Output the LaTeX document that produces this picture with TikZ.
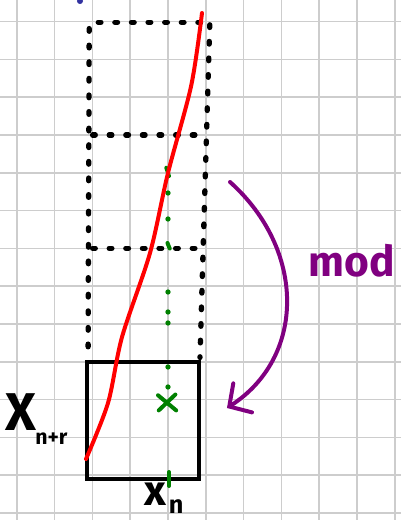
\documentclass[tikz,border=0pt]{standalone}
\usepackage{fontspec}
\setmainfont{Fira Sans}
\usepackage{xcolor}
\usepackage{tikz}
\usetikzlibrary{arrows.meta}

\definecolor{gridgray}{RGB}{205,205,205}
\definecolor{inkgreen}{RGB}{0,128,0}
\definecolor{inkpurple}{RGB}{128,0,128}
\definecolor{inkblue}{RGB}{50,50,160}

\tikzset{
  gridline/.style={gridgray,line width=1.2pt},
  dotline/.style={line width=4pt,line cap=round,dash pattern=on 2pt off 10.5pt},
  greendot/.style={inkgreen,line width=3pt,line cap=round},
  hand/.style={font=\bfseries,inner sep=0pt}
}

\begin{document}
\begin{tikzpicture}
  \useasboundingbox (0,0) rectangle (10.608,13.757);
  \begin{scope}
    \clip (0,0) rectangle (10.608,13.757);
    \draw[gridline,shift={(0.442,0.183)}] (-1,-1) grid (11,14);
  \end{scope}
  \fill[inkblue] (2.116,13.73) circle (0.08);
  % stacked copies of the cell
  \draw[dotline] (2.60,13.17) -- (5.50,13.17);
  \draw[dotline] (2.36,13.00) -- (2.33,4.30);
  \draw[dotline] (5.55,13.10) -- (5.29,4.30);
  \draw[dotline] (2.45,10.185) -- (5.42,10.185);
  \draw[dotline] (2.45,7.19) -- (5.40,7.19);
  % the cell itself
  \draw[line width=3pt] (2.294,1.077) rectangle (5.272,4.188);
  % green column through the cell
  \foreach \y in {8.651,7.963,6.032,5.503,5.212,4.048,3.519}
    \fill[inkgreen] (4.444,\y) circle (0.07);
  \draw[greendot] (4.40,9.32) -- (4.47,9.10);
  \draw[greendot] (4.43,7.33) -- (4.49,7.18);
  \draw[greendot] (4.47,1.27) -- (4.47,0.90);
  \draw[greendot] (4.18,3.30) -- (4.66,2.90);
  \draw[greendot] (4.20,2.90) -- (4.64,3.32);
  % red path
  \draw[red,line width=3pt,line cap=round] plot[smooth,tension=0.5] coordinates {
    (5.344,13.413) (5.060,11.500) (4.444,9.180) (3.968,7.063)
    (3.228,4.841) (2.857,3.095) (2.275,1.614)};
  % mod arrow
  \coordinate (arrowstart) at (6.085,8.942);
  \coordinate (arrowend) at (6.005,2.963);
  \draw[inkpurple,line width=3pt,line cap=round,-{Straight Barb[length=12pt,width=26pt,line cap=round]}]
    (arrowstart) .. controls (8.095,7.143) and (8.095,4.312) .. (arrowend);
  % labels
  \node[hand,font=\fontsize{40}{40}\selectfont\bfseries] (xbig) at (0.56,2.85) {X};
  \node[hand,anchor=base,font=\fontsize{32}{32}\selectfont\bfseries] (xn) at (4.10,0.39) {x};
  \node[hand,font=\fontsize{16}{16}\selectfont\bfseries] (xsub) at (1.36,2.15) {n+r};
  \node[hand,font=\fontsize{19}{19}\selectfont\bfseries] (nsub) at (4.66,0.36) {n};
  \node[hand,inkpurple,font=\fontsize{32}{32}\selectfont\bfseries] (modlabel) at (9.31,6.85) {mod};
\end{tikzpicture}
\end{document}
